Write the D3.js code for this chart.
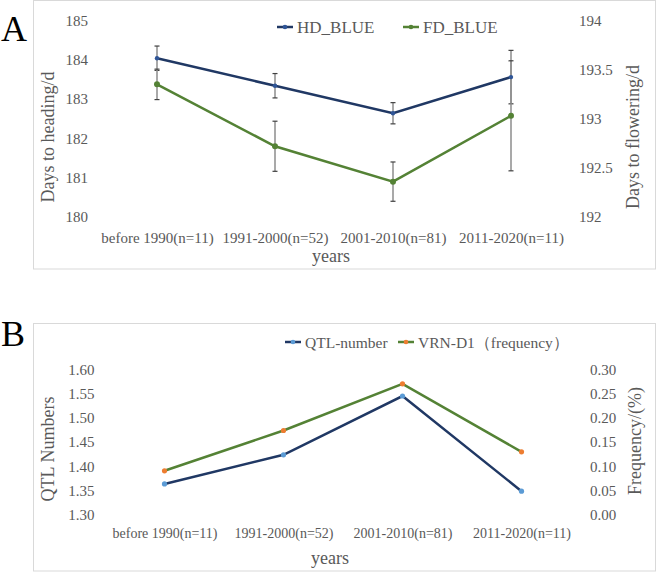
<!DOCTYPE html>
<html>
<head>
<meta charset="utf-8">
<script src="https://cdn.jsdelivr.net/npm/d3@7"></script>
<style>
  body { margin: 0; background: #fff; }
  svg { display: block; font-family: "Liberation Serif", "Times New Roman", serif; }
</style>
</head>
<body>
<div id="chart"></div>
<script>
// categories shared by both panels
const periods = ['before 1990(n=11)', '1991-2000(n=52)', '2001-2010(n=81)', '2011-2020(n=11)'];

// panel A
const hdBlue = [184.04, 183.34, 182.64, 183.56];
const hdErr = [0.31, 0.31, 0.27, 0.68];
const fdBlue = [193.35, 192.72, 192.36, 193.03];
const fdErr = [0.155, 0.255, 0.2, 0.56];
const ticksHD = [180, 181, 182, 183, 184, 185];
const ticksFD = [192, 192.5, 193, 193.5, 194];

// panel B
const qtlNumber = [1.364, 1.424, 1.545, 1.349];
const vrnFreq = [0.091, 0.174, 0.270, 0.130];
const ticksQTL = [1.30, 1.35, 1.40, 1.45, 1.50, 1.55, 1.60];
const ticksFreq = [0.00, 0.05, 0.10, 0.15, 0.20, 0.25, 0.30];

const width = 657, height = 572;
const navy = '#203864', green = '#548235', grey = '#595959';

const svg = d3.select('#chart').append('svg')
	.attr('width', width)
	.attr('height', height);

// ---------- panel A ----------
svg.append('rect')
	.attr('x', 33.5).attr('y', 0.5)
	.attr('width', 622).attr('height', 268.5)
	.attr('fill', 'none').attr('stroke', '#d9d9d9');

svg.append('text').attr('x', 1).attr('y', 41)
	.attr('font-size', 36).attr('fill', '#000').text('A');

const xA = d3.scalePoint().domain(periods).range([157, 511]);
const yHD = d3.scaleLinear().domain([180, 185]).range([217, 20.5]);
const yFD = d3.scaleLinear().domain([192, 194]).range([217, 20.5]);

const axA = svg.append('g');
axA.append('g')
	.attr('transform', 'translate(88,0)')
	.call(d3.axisLeft(yHD).tickValues(ticksHD).tickSize(0).tickPadding(0).tickFormat(d3.format('d')));
axA.append('g')
	.attr('transform', 'translate(579,0)')
	.call(d3.axisRight(yFD).tickValues(ticksFD).tickSize(0).tickPadding(0).tickFormat(d => String(d)));
axA.append('g')
	.attr('transform', 'translate(0,232)')
	.call(d3.axisBottom(xA).tickSize(0).tickPadding(0));
axA.selectAll('.domain').remove();
axA.selectAll('g').attr('font-family', null);
axA.selectAll('text').attr('font-size', 15).attr('fill', grey);

// error bars
function errorBars(g, vals, errs, y, x) {
	const bars = g.append('g').selectAll('g').data(vals).join('g');
	bars.append('line')
		.attr('x1', (d, i) => x(periods[i])).attr('x2', (d, i) => x(periods[i]))
		.attr('y1', (d, i) => y(d - errs[i])).attr('y2', (d, i) => y(d + errs[i]))
		.attr('stroke', '#8c8c8c').attr('stroke-width', 1.5);
	[-1, 1].forEach(s => {
		bars.append('line')
			.attr('x1', (d, i) => x(periods[i]) - 2.5).attr('x2', (d, i) => x(periods[i]) + 2.5)
			.attr('y1', (d, i) => y(d + s * errs[i])).attr('y2', (d, i) => y(d + s * errs[i]))
			.attr('stroke', '#404040').attr('stroke-width', 1.2);
	});
}
errorBars(svg, hdBlue, hdErr, yHD, xA);
errorBars(svg, fdBlue, fdErr, yFD, xA);

function series(g, vals, x, y, lineColor, markColor, r) {
	g.append('path').datum(vals)
		.attr('fill', 'none').attr('stroke', lineColor).attr('stroke-width', 2.5)
		.attr('d', d3.line().x((d, i) => x(periods[i])).y(d => y(d)));
	g.append('g').selectAll('circle').data(vals).join('circle')
		.attr('cx', (d, i) => x(periods[i])).attr('cy', d => y(d))
		.attr('r', r).attr('fill', markColor);
}
series(svg, hdBlue, xA, yHD, navy, '#2f5597', 2.2);
series(svg, fdBlue, xA, yFD, green, green, 3);

// axis titles A
svg.append('text')
	.attr('transform', 'translate(54,137) rotate(-90)')
	.attr('text-anchor', 'middle').attr('font-size', 18).attr('fill', grey)
	.text('Days to heading/d');
svg.append('text')
	.attr('transform', 'translate(639,137) rotate(-90)')
	.attr('text-anchor', 'middle').attr('font-size', 18).attr('fill', grey)
	.text('Days to flowering/d');
svg.append('text')
	.attr('x', 331).attr('y', 262)
	.attr('text-anchor', 'middle').attr('font-size', 18).attr('fill', grey)
	.text('years');

// legend A
function legendItem(g, x, y, label, lineColor, markColor, size) {
	g.append('line').attr('x1', x).attr('x2', x + 16).attr('y1', y).attr('y2', y)
		.attr('stroke', lineColor).attr('stroke-width', 2.5);
	g.append('circle').attr('cx', x + 8).attr('cy', y).attr('r', 2.3).attr('fill', markColor);
	g.append('text').attr('x', x + 20).attr('y', y + 5.5)
		.attr('font-size', size).attr('fill', grey).text(label);
}
legendItem(svg, 277, 27, 'HD_BLUE', navy, '#2f5597', 17);
legendItem(svg, 403, 27, 'FD_BLUE', green, green, 17);

// ---------- panel B ----------
svg.append('rect')
	.attr('x', 33.5).attr('y', 323.5)
	.attr('width', 622).attr('height', 247.5)
	.attr('fill', 'none').attr('stroke', '#d9d9d9');

svg.append('text').attr('x', 1).attr('y', 346)
	.attr('font-size', 36).attr('fill', '#000').text('B');

const xB = d3.scalePoint().domain(periods).range([164.5, 521.5]);
const yQ = d3.scaleLinear().domain([1.30, 1.60]).range([515, 369.3]);
const yF = d3.scaleLinear().domain([0, 0.30]).range([515, 369.3]);

const axB = svg.append('g');
axB.append('g')
	.attr('transform', 'translate(94.5,0)')
	.call(d3.axisLeft(yQ).tickValues(ticksQTL).tickSize(0).tickPadding(0).tickFormat(d3.format('.2f')));
axB.append('g')
	.attr('transform', 'translate(590,0)')
	.call(d3.axisRight(yF).tickValues(ticksFreq).tickSize(0).tickPadding(0).tickFormat(d3.format('.2f')));
axB.selectAll('text').attr('font-size', 15);
const xAxB = axB.append('g')
	.attr('transform', 'translate(0,528)')
	.call(d3.axisBottom(xB).tickSize(0).tickPadding(0));
xAxB.selectAll('text').attr('font-size', 14);
axB.selectAll('.domain').remove();
axB.selectAll('g').attr('font-family', null);
axB.selectAll('text').attr('fill', grey);

series(svg, qtlNumber, xB, yQ, navy, '#5b9bd5', 2.6);
series(svg, vrnFreq, xB, yF, green, '#ed7d31', 2.6);

svg.append('text')
	.attr('transform', 'translate(54,449) rotate(-90)')
	.attr('text-anchor', 'middle').attr('font-size', 18).attr('fill', grey)
	.text('QTL Numbers');
svg.append('text')
	.attr('transform', 'translate(641,441) rotate(-90)')
	.attr('text-anchor', 'middle').attr('font-size', 18).attr('fill', grey)
	.text('Frequency/(%)');
svg.append('text')
	.attr('x', 330).attr('y', 564)
	.attr('text-anchor', 'middle').attr('font-size', 18).attr('fill', grey)
	.text('years');

legendItem(svg, 285, 342, 'QTL-number', navy, '#5b9bd5', 15.5);
legendItem(svg, 398, 342, 'VRN-D1（frequency）', green, '#ed7d31', 15.5);
</script>
</body>
</html>
